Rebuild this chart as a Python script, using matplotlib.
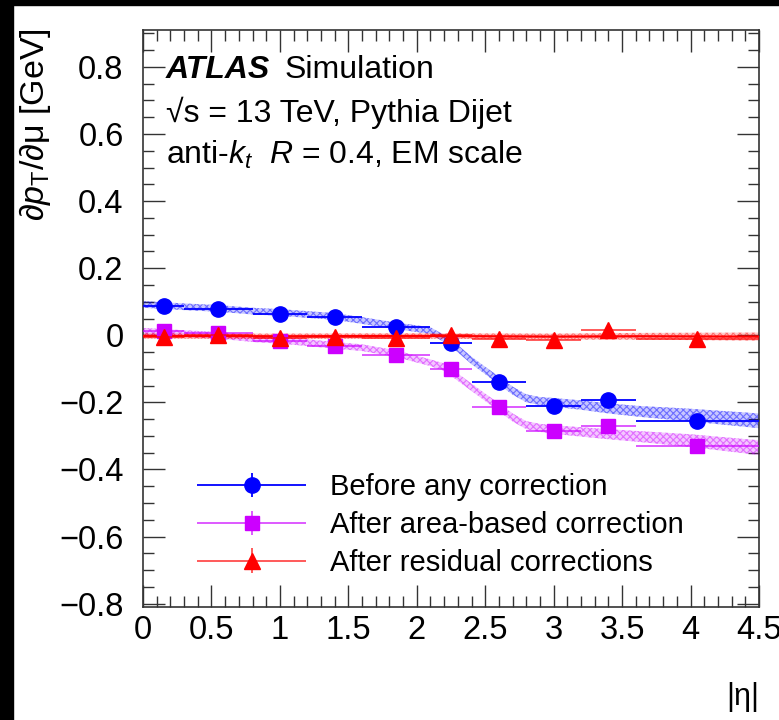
import numpy as np
import matplotlib
matplotlib.use("Agg")
import matplotlib.pyplot as plt
from matplotlib.patches import Rectangle
from matplotlib.ticker import MultipleLocator, FixedLocator
from matplotlib.legend_handler import HandlerErrorbar
from matplotlib.container import ErrorbarContainer

plt.rcParams['font.family'] = ['Liberation Sans', 'DejaVu Sans']
plt.rcParams['mathtext.fontset'] = 'custom'
plt.rcParams['mathtext.rm'] = 'Liberation Sans'
plt.rcParams['mathtext.it'] = 'Liberation Sans:italic'
plt.rcParams['mathtext.bf'] = 'Liberation Sans:bold'
plt.rcParams['hatch.linewidth'] = 0.8

# ---- data ----
eta_centers = [0.15, 0.55, 1.0, 1.4, 1.85, 2.25, 2.6, 3.0, 3.4, 4.05]
bin_lo = [0.0, 0.3, 0.8, 1.2, 1.6, 2.1, 2.4, 2.8, 3.2, 3.6]
bin_hi = [0.3, 0.8, 1.2, 1.6, 2.1, 2.4, 2.8, 3.2, 3.6, 4.5]

before_vals = [0.086, 0.077, 0.062, 0.053, 0.024, -0.024, -0.139, -0.210, -0.193, -0.255]
area_vals = [0.012, 0.006, -0.018, -0.033, -0.059, -0.101, -0.213, -0.284, -0.270, -0.329]
resid_vals = [-0.006, 0.000, -0.009, -0.006, -0.009, 0.000, -0.012, -0.015, 0.015, -0.012]
point_err = [0.006, 0.006, 0.006, 0.006, 0.006, 0.006, 0.006, 0.006, 0.006, 0.006]

band_x = [0.0, 0.3, 0.55, 0.8, 1.0, 1.2, 1.4, 1.6, 1.85, 2.1, 2.2, 2.3, 2.4, 2.5,
          2.6, 2.7, 2.8, 2.9, 3.0, 3.2, 3.4, 3.6, 4.0, 4.5]
before_band = [0.092, 0.085, 0.080, 0.072, 0.068, 0.062, 0.056, 0.044, 0.028, 0.014,
               -0.010, -0.040, -0.075, -0.105, -0.135, -0.165, -0.188, -0.196, -0.200,
               -0.208, -0.218, -0.226, -0.238, -0.255]
before_band_hw = [0.010, 0.010, 0.010, 0.010, 0.010, 0.010, 0.010, 0.010, 0.010, 0.010,
                  0.011, 0.011, 0.011, 0.011, 0.012, 0.012, 0.012, 0.012, 0.013,
                  0.014, 0.015, 0.016, 0.019, 0.022]
area_band = [0.012, 0.005, 0.000, -0.010, -0.015, -0.022, -0.030, -0.037, -0.055, -0.082,
             -0.095, -0.125, -0.155, -0.185, -0.215, -0.245, -0.268, -0.276, -0.281,
             -0.288, -0.295, -0.301, -0.314, -0.335]
area_band_hw = [0.010, 0.010, 0.010, 0.010, 0.010, 0.010, 0.010, 0.010, 0.010, 0.010,
                0.011, 0.011, 0.011, 0.011, 0.012, 0.012, 0.012, 0.012, 0.013,
                0.014, 0.015, 0.016, 0.019, 0.022]
resid_band_x = [0.0, 1.0, 2.0, 3.0, 3.6, 4.5]
resid_band = [-0.002, -0.003, -0.002, -0.004, -0.003, -0.004]
resid_band_hw = [0.008, 0.008, 0.008, 0.009, 0.010, 0.012]

labels = ["Before any correction", "After area-based correction", "After residual corrections"]
c_blue = '#0000ff'
c_mag = '#cc00ff'
c_red = '#ff0000'

# ---- figure ----
W, H = 779, 720
fig = plt.figure(figsize=(W / 100, H / 100), dpi=100)
fig.patch.set_facecolor('white')
fig.add_artist(Rectangle((0, 0), 13 / W, 1, transform=fig.transFigure, color='black', zorder=-1))
fig.add_artist(Rectangle((0, 1 - 5 / H), 1, 5 / H, transform=fig.transFigure, color='black', zorder=-1))

L, R, T, B = 143, 759, 30, 607
ax = fig.add_axes([L / W, (H - B) / H, (R - L) / W, (B - T) / H])
ax.set_xlim(0, 4.5)
ax.set_ylim(-0.81, 0.91)

def band(x, c, hw, color):
    x = np.asarray(x); c = np.asarray(c); hw = np.asarray(hw)
    ax.fill_between(x, c - hw, c + hw, facecolor=matplotlib.colors.to_rgba(color, 0.22),
                    edgecolor=matplotlib.colors.to_rgba(color, 0.45), hatch='xxxxx',
                    linewidth=0, zorder=2)

band(band_x, before_band, before_band_hw, c_blue)
band(band_x, area_band, area_band_hw, c_mag)
band(resid_band_x, resid_band, resid_band_hw, c_red)
ax.plot(resid_band_x, resid_band, color=c_red, lw=1.6, zorder=3)

xerr = [np.array(eta_centers) - np.array(bin_lo), np.array(bin_hi) - np.array(eta_centers)]
h1 = ax.errorbar(eta_centers, before_vals, xerr=xerr, yerr=point_err, fmt='o', color=c_blue,
                 ms=11, elinewidth=1.3, capsize=0, zorder=5)
h2 = ax.errorbar(eta_centers, area_vals, xerr=xerr, yerr=point_err, fmt='s', color=c_mag,
                 ecolor=matplotlib.colors.to_rgba(c_mag, 0.7), ms=10.5, elinewidth=1.3, capsize=0, zorder=5)
h3 = ax.errorbar(eta_centers, resid_vals, xerr=xerr, yerr=point_err, fmt='^', color=c_red,
                 ecolor=matplotlib.colors.to_rgba(c_red, 0.7), ms=11, elinewidth=1.3, capsize=0, zorder=6)

leg_fs = 21
hl = 109 / (leg_fs * 100 / 72)
leg = ax.legend([h1, h2, h3], labels, loc='center left',
                bbox_to_anchor=((197 - L) / (R - L), (B - 525) / (B - T)),
                frameon=False, fontsize=leg_fs, handlelength=hl, handletextpad=0.82,
                labelspacing=0.34, borderpad=0, borderaxespad=0,
                handler_map={ErrorbarContainer: HandlerErrorbar(xerr_size=hl / 2, yerr_size=0.42)})

# ticks
ax.xaxis.set_major_locator(MultipleLocator(0.5))
ax.xaxis.set_minor_locator(MultipleLocator(0.1))
ax.yaxis.set_major_locator(FixedLocator([-0.8, -0.6, -0.4, -0.2, 0, 0.2, 0.4, 0.6, 0.8]))
ax.yaxis.set_minor_locator(MultipleLocator(0.05))
ax.tick_params(which='both', direction='in', top=True, right=True, width=1.0, color='#333333')
ax.tick_params(which='major', length=16, labelsize=23.5)
ax.tick_params(which='minor', length=8)
ax.tick_params(axis='y', which='major', pad=14)
ax.tick_params(axis='x', which='major', pad=6)
for s in ax.spines.values():
    s.set_linewidth(1.2)
    s.set_color('#333333')

def fmt(v):
    if abs(v) < 1e-9:
        return '0'
    s = ('%g' % v)
    return s.replace('-', '\u2212')
ax.set_xticklabels([fmt(v) for v in ax.get_xticks()])
ax.set_yticklabels([fmt(v) for v in [-0.8, -0.6, -0.4, -0.2, 0, 0.2, 0.4, 0.6, 0.8]])

# axis titles
fig.text(53 / W, 1 - 28 / H, '\u2202$p_{\\mathrm{T}}$/\u2202\u03bc [GeV]', rotation=90,
         ha='right', va='top', fontsize=24.5)
fig.text(R / W, 1 - 705 / H, '|\u03b7|', ha='right', va='baseline', fontsize=22)

# annotation
ann_fs = 23
fig.text(166 / W, 1 - 78 / H, 'ATLAS', fontsize=ann_fs, fontweight='bold', fontstyle='italic',
         ha='left', va='baseline')
fig.text(285 / W, 1 - 78 / H, 'Simulation', fontsize=ann_fs, ha='left', va='baseline')
fig.text(166 / W, 1 - 122 / H, '\u221as = 13 TeV, Pythia Dijet', fontsize=ann_fs, ha='left', va='baseline')
fig.text(166 / W, 1 - 164 / H, r'anti-$k_{t}$  $R$ = 0.4, EM scale', fontsize=ann_fs, ha='left', va='baseline')

fig.savefig('out.png', dpi=100, facecolor=fig.get_facecolor())
